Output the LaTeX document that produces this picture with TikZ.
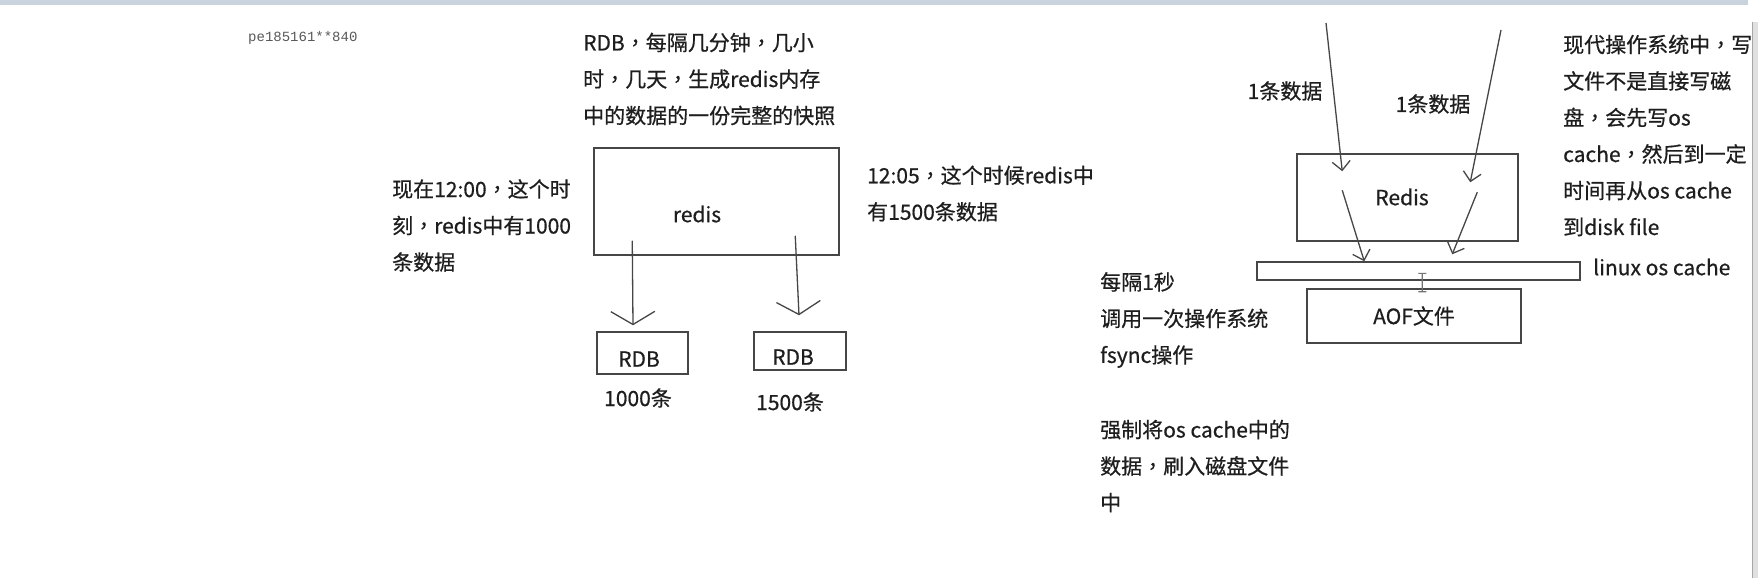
\documentclass[tikz,border=0pt]{standalone}
\usepackage{fontspec}
\setmainfont{Noto Sans CJK SC}[FakeBold=0.6]
\newfontfamily\tcfont{Noto Sans CJK TC}[FakeBold=0.6]
\newfontfamily\wmfont{Liberation Mono}
\newcommand\cma{{\tcfont ，}}
\usetikzlibrary{arrows.meta,calc}
\definecolor{topbar}{RGB}{200,211,222}
\definecolor{inkc}{RGB}{30,30,30}
\definecolor{linec}{RGB}{70,70,70}
\begin{document}
\begin{tikzpicture}[x=1bp,y=-1bp,
  txt/.style={font=\fontsize{21bp}{36.5bp}\selectfont, text=inkc, inner sep=0pt, align=left, anchor=west},
  lbl/.style={font=\fontsize{21bp}{25bp}\selectfont, text=inkc, inner sep=0pt},
  box/.style={draw=linec, line width=1.5bp, inner sep=0pt, font=\fontsize{21bp}{25bp}\selectfont, text=inkc},
  ln/.style={draw=linec, line width=1.3bp},
  wide barb/.style={-{Straight Barb[length=13bp,width=44bp,line width=1.3bp]}},
  thin barb/.style={-{Straight Barb[length=9bp,width=18bp,line width=1.3bp]}},
  cursorbar/.style={draw=black!55, line width=1.2bp, {Bar[width=8bp,line width=1.2bp]}-{Bar[width=8bp,line width=1.2bp]}}
]
\useasboundingbox (0,0) rectangle (1758,578);
\fill[white] (0,0) rectangle (1758,578);
\fill[topbar] (0,0) rectangle (1748,5);
\fill[black!12] (1752,22) rectangle (1758,578);
\draw[black!35, line width=1bp] (1752.5,22) -- (1752.5,578);

% watermark
\node[font=\wmfont\fontsize{14bp}{16bp}\selectfont, text=black!65, inner sep=0pt, anchor=west] (wm) at (248,38) {pe185161**840};

% ===== left: RDB =====
\node[txt] (rdbnote) at (583,79) {RDB\cma 每隔几分钟\cma 几小\\时\cma 几天\cma 生成redis内存\\中的数据的一份完整的快照};
\node[box, minimum width=245bp, minimum height=107bp] (redisA) at (716.5,201.5) {};
\node[lbl] (redisAlbl) at (697,214) {redis};
\node[txt] (leftnote) at (392,225.5) {现在12:00\cma 这个时\\刻\cma redis中有1000\\条数据};
\node[txt] (rightnote) at (867,193.5) {12:05\cma 这个时候redis中\\有1500条数据};

\node[box, minimum width=91bp, minimum height=42bp] (rdb1) at (642.5,353) {};
\node[lbl] (rdb1lbl) at (639,359) {RDB};
\node[box, minimum width=92bp, minimum height=38bp] (rdb2) at (800,351) {};
\node[lbl] (rdb2lbl) at (793,357) {RDB};
\node[lbl] (cnt1) at (638,398) {1000条};
\node[lbl] (cnt2) at (790,402) {1500条};

\draw[ln, wide barb] ($(redisA.south west)+(39,-15)$) -- ($(rdb1.north)+(-9.5,-6)$);
\draw[ln, wide barb] ($(redisA.south west)+(202,-20)$) -- ($(rdb2.north)+(-1,-16)$);

% ===== right: AOF =====
\node[box, minimum width=221bp, minimum height=87bp] (redisB) at (1407.5,197.5) {};
\node[lbl] (redisBlbl) at (1402,197) {Redis};
\node[box, minimum width=323bp, minimum height=18bp] (cache) at (1418.5,271) {};
\node[lbl, anchor=west] (cachelbl) at (1593,267) {linux os cache};
\node[box, minimum width=214bp, minimum height=54bp] (aof) at (1414,316) {AOF文件};

\coordinate (in1) at (1326,23);
\coordinate (in2) at (1501,30);
\node[lbl] (d1) at (1285,91) {1条数据};
\node[lbl] (d2) at (1433,104) {1条数据};

\draw[ln, thin barb] (in1) -- ($(redisB.north west)+(46,18)$);
\draw[ln, thin barb] (in2) -- ($(redisB.north west)+(174,29)$);
\draw[ln, thin barb] ($(redisB.north west)+(46,37)$) -- ($(cache.north west)+(108,0)$);
\draw[ln, thin barb] ($(redisB.north west)+(181,39)$) -- ($(cache.north west)+(196,-7)$);
\draw[cursorbar] ($(cache.south west)+(166,-8)$) -- ($(aof.north west)+(116,4)$);

\node[txt] (fsyncnote) at (1100,320) {每隔1秒\\调用一次操作系统\\fsync操作};
\node[txt] (forcenote) at (1100,466) {强制将os cache中的\\数据\cma 刷入磁盘文件\\中};
\node[txt] (osnote) at (1563,135.5) {现代操作系统中\cma 写\\文件不是直接写磁\\盘\cma 会先写os\\cache\cma 然后到一定\\时间再从os cache\\到disk file};
\end{tikzpicture}
\end{document}
